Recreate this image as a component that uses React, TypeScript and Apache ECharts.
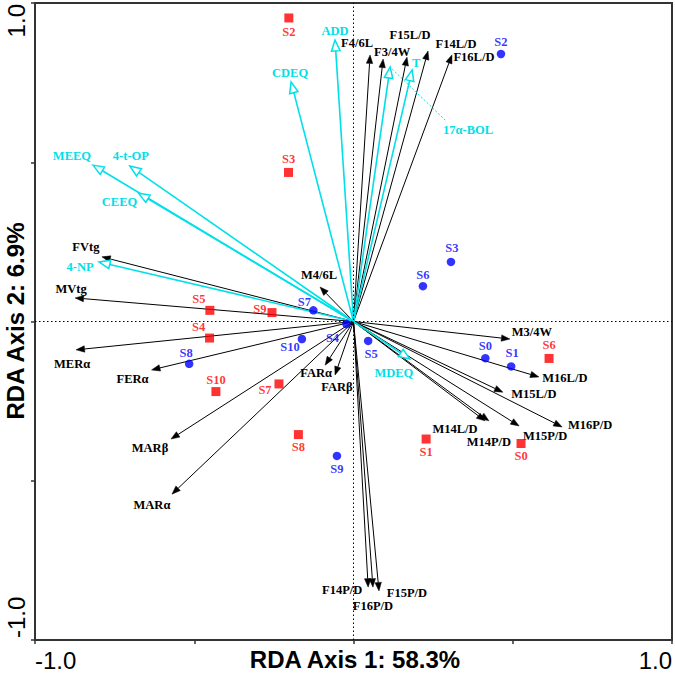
import React, { useEffect, useRef } from 'react';
import * as echarts from 'echarts';

// ---- data ----
const blackNames = ['F4/6L', 'F3/4W', 'F15L/D', 'F14L/D', 'F16L/D', 'M4/6L', 'FVtg', 'MVtg', 'MERα', 'FERα', 'MARβ', 'MARα', 'FARα', 'FARβ', 'M3/4W', 'M16L/D', 'M15L/D', 'M16P/D', 'M15P/D', 'M14L/D', 'M14P/D', 'F14P/D', 'F16P/D', 'F15P/D'];
const blackX = [0.052, 0.093, 0.168, 0.234, 0.309, -0.105, -0.790, -0.874, -0.871, -0.634, -0.573, -0.570, -0.089, -0.058, 0.491, 0.582, 0.469, 0.655, 0.520, 0.413, 0.425, 0.046, 0.061, 0.080];
const blackY = [0.837, 0.824, 0.830, 0.849, 0.837, 0.108, 0.203, 0.074, -0.089, -0.152, -0.369, -0.542, -0.137, -0.168, -0.055, -0.174, -0.222, -0.331, -0.328, -0.312, -0.312, -0.834, -0.834, -0.846];

const cyanNames = ['ADD', 'CDEQ', 'MEEQ', '4-t-OP', 'CEEQ', '4-NP', '17α-BOL', 'T', 'MDEQ'];
const cyanX = [-0.058, -0.196, -0.818, -0.702, -0.675, -0.799, 0.115, 0.184, 0.177];
const cyanY = [0.884, 0.752, 0.491, 0.488, 0.403, 0.187, 0.799, 0.790, -0.118];

const redNames = ['S2', 'S3', 'S5', 'S9', 'S4', 'S10', 'S7', 'S8', 'S1', 'S0', 'S6'];
const redX = [-0.203, -0.204, -0.451, -0.256, -0.452, -0.432, -0.234, -0.173, 0.228, 0.526, 0.614];
const redY = [0.953, 0.468, 0.035, 0.028, -0.052, -0.220, -0.196, -0.355, -0.369, -0.383, -0.116];

const blueNames = ['S2', 'S3', 'S6', 'S7', 'S4', 'S10', 'S5', 'S8', 'S9', 'S0', 'S1'];
const blueX = [0.463, 0.306, 0.218, -0.126, -0.022, -0.162, 0.046, -0.516, -0.052, 0.414, 0.495];
const blueY = [0.840, 0.187, 0.111, 0.035, -0.008, -0.055, -0.061, -0.133, -0.422, -0.115, -0.141];

const xTickLabels = ['-1.0', '1.0'];
const yTickLabels = ['-1.0', '1.0'];
const xAxisTitle = 'RDA Axis 1: 58.3%';
const yAxisTitle = 'RDA Axis 2: 6.9%';

// ---- layout (pixel label offsets) ----
const blackLabelOffset: Record<string, [number, number]> = {
  'F4/6L': [-13, -12], 'F3/4W': [9, -7], 'F15L/D': [3, -22], 'F14L/D': [28, -7], 'F16L/D': [22, 2],
  'M4/6L': [-1, -12], 'FVtg': [-16, -10], 'MVtg': [-4, -9], 'MERα': [-4, 14], 'FERα': [-19, 9],
  'MARβ': [-21, 9], 'MARα': [-20, 11], 'FARα': [-9, 8], 'FARβ': [2, 12], 'M3/4W': [22, -7],
  'M16L/D': [26, 1], 'M15L/D': [31, 2], 'M16P/D': [28, -2], 'M15P/D': [26, 10], 'M14L/D': [-30, 8],
  'M14P/D': [0, 21], 'F14P/D': [-26, 3], 'F16P/D': [0, 19], 'F15P/D': [28, 2],
};
const cyanLabelOffset: Record<string, [number, number]> = {
  'ADD': [0, -9], 'CDEQ': [-1, -9], 'MEEQ': [-21, -9], '4-t-OP': [1, -10], 'CEEQ': [-19, 9],
  '4-NP': [-19, 5], '17α-BOL': [78, 63], 'T': [4, -7], 'MDEQ': [-16, 14],
};
const cyanLeader: Record<string, [number, number]> = { '17α-BOL': [55, 53] };
const redLabelOffset: Record<string, [number, number]> = {
  S2: [0, 14], S3: [0, -13], S5: [-11, -11], S9: [-12, -4], S4: [-11, -11], S10: [0, -12],
  S7: [-14, 6], S8: [0, 12], S1: [0, 13], S0: [0, 13], S6: [0, -13],
};
const blueLabelOffset: Record<string, [number, number]> = {
  S2: [0, -12], S3: [1, -14], S6: [0, -11], S7: [-9, -8], S4: [-14, 14], S10: [-12, 8],
  S5: [3, 13], S8: [-3, -11], S9: [0, 13], S0: [0, -12], S1: [1, -13],
};

const CYAN = '#00E0E8';
const RED = '#FF0000';
const BLUE = '#0000FF';
const LABEL_FONT = '"Liberation Serif", "Times New Roman", serif';
const AXIS_FONT = '"Liberation Sans", Arial, sans-serif';

function makeArrowRenderer(kind: 'black' | 'cyan') {
  const names = kind === 'black' ? blackNames : cyanNames;
  const offsets = kind === 'black' ? blackLabelOffset : cyanLabelOffset;
  const color = kind === 'black' ? '#000' : CYAN;
  const hl = kind === 'black' ? 8.5 : 11;
  const hw = kind === 'black' ? 3.2 : 4.3;
  return (params: any, api: any) => {
    const i = params.dataIndex;
    const name = names[i];
    const o = api.coord([0, 0]);
    const t = api.coord([api.value(0), api.value(1)]);
    const dx = t[0] - o[0];
    const dy = t[1] - o[1];
    const len = Math.hypot(dx, dy) || 1;
    const ux = dx / len;
    const uy = dy / len;
    const px = -uy;
    const py = ux;
    const bx = t[0] - ux * hl;
    const by = t[1] - uy * hl;
    const children: any[] = [
      {
        type: 'line',
        shape: { x1: o[0], y1: o[1], x2: bx, y2: by },
        style: { stroke: color, lineWidth: kind === 'black' ? 1 : 1.6 },
      },
      {
        type: 'polygon',
        shape: { points: [[t[0], t[1]], [bx + px * hw, by + py * hw], [bx - px * hw, by - py * hw]] },
        style: kind === 'black'
          ? { fill: '#000', stroke: '#000', lineWidth: 0.5 }
          : { fill: '#fff', stroke: CYAN, lineWidth: 1.5 },
      },
    ];
    const off = offsets[name] || [0, -10];
    const lead = kind === 'cyan' ? cyanLeader[name] : undefined;
    if (lead) {
      children.push({
        type: 'line',
        shape: { x1: t[0] + 2, y1: t[1] + 2, x2: t[0] + lead[0], y2: t[1] + lead[1] },
        style: { stroke: CYAN, lineWidth: 1, lineDash: [2, 2] },
      });
    }
    children.push({
      type: 'text',
      x: t[0] + off[0],
      y: t[1] + off[1],
      style: {
        text: name,
        fill: color,
        font: `bold 12.5px ${LABEL_FONT}`,
        align: 'center',
        verticalAlign: 'middle',
      },
    });
    return { type: 'group', children };
  };
}

export default function App() {
  const ref = useRef<HTMLDivElement>(null);
  useEffect(() => {
    if (!ref.current) return;
    const chart = echarts.init(ref.current, undefined, { renderer: 'svg' });
    const axisCommon = {
      type: 'value' as const,
      min: -1,
      max: 1,
      interval: 0.5,
      axisLine: { show: true, onZero: false, lineStyle: { color: '#333', width: 2 } },
      axisTick: { show: true, inside: false, length: 4, lineStyle: { color: '#333', width: 1.5 } },
      axisLabel: { show: false },
      splitLine: { show: false },
    };
    const pointLabel = (offs: Record<string, [number, number]>, color: string) => (n: string) => ({
      show: true,
      position: 'inside',
      offset: offs[n] || [0, -12],
      formatter: n,
      color,
      fontFamily: LABEL_FONT,
      fontWeight: 'bold',
      fontSize: 12.5,
    });
    const redLab = pointLabel(redLabelOffset, RED);
    const blueLab = pointLabel(blueLabelOffset, BLUE);
    chart.setOption({
      animation: false,
      backgroundColor: '#fff',
      grid: { left: 35, top: 3, right: 3, bottom: 33, show: true, borderColor: '#333', borderWidth: 2, backgroundColor: 'transparent' },
      xAxis: { ...axisCommon },
      yAxis: { ...axisCommon },
      series: [
        {
          type: 'line',
          data: [],
          silent: true,
          markLine: {
            silent: true,
            symbol: 'none',
            label: { show: false },
            lineStyle: { color: '#000', type: [1.5, 2.5], width: 1 },
            data: [{ xAxis: 0 }, { yAxis: 0 }],
          },
        },
        {
          type: 'custom',
          renderItem: makeArrowRenderer('black'),
          data: blackX.map((x, i) => [x, blackY[i]]),
          silent: true,
          z: 3,
        },
        {
          type: 'custom',
          renderItem: makeArrowRenderer('cyan'),
          data: cyanX.map((x, i) => [x, cyanY[i]]),
          silent: true,
          z: 4,
        },
        {
          type: 'scatter',
          symbol: 'rect',
          symbolSize: 9,
          itemStyle: { color: RED },
          data: redX.map((x, i) => ({ value: [x, redY[i]], name: redNames[i], label: redLab(redNames[i]) })),
          silent: true,
          z: 5,
        },
        {
          type: 'scatter',
          symbol: 'circle',
          symbolSize: 8.5,
          itemStyle: { color: BLUE },
          data: blueX.map((x, i) => ({ value: [x, blueY[i]], name: blueNames[i], label: blueLab(blueNames[i]) })),
          silent: true,
          z: 5,
        },
      ],
      graphic: [
        { type: 'text', x: 35, y: 660, style: { text: xTickLabels[0], font: `24px ${AXIS_FONT}`, fill: '#000', align: 'left', verticalAlign: 'middle' } },
        { type: 'text', x: 672, y: 660, style: { text: xTickLabels[1], font: `24px ${AXIS_FONT}`, fill: '#000', align: 'right', verticalAlign: 'middle' } },
        { type: 'text', x: 16, y: 638, rotation: Math.PI / 2, style: { text: yTickLabels[0], font: `24px ${AXIS_FONT}`, fill: '#000', align: 'left', verticalAlign: 'middle' } },
        { type: 'text', x: 16, y: 4, rotation: Math.PI / 2, style: { text: yTickLabels[1], font: `24px ${AXIS_FONT}`, fill: '#000', align: 'right', verticalAlign: 'middle' } },
        { type: 'text', x: 355, y: 659, style: { text: xAxisTitle, font: `bold 24px ${AXIS_FONT}`, fill: '#000', align: 'center', verticalAlign: 'middle' } },
        { type: 'text', x: 15, y: 321, rotation: Math.PI / 2, style: { text: yAxisTitle, font: `bold 24px ${AXIS_FONT}`, fill: '#000', align: 'center', verticalAlign: 'middle' } },
      ],
    });
    return () => chart.dispose();
  }, []);
  return <div ref={ref} style={{ position: 'fixed', left: 0, top: 0, width: 675, height: 673 }} />;
}
